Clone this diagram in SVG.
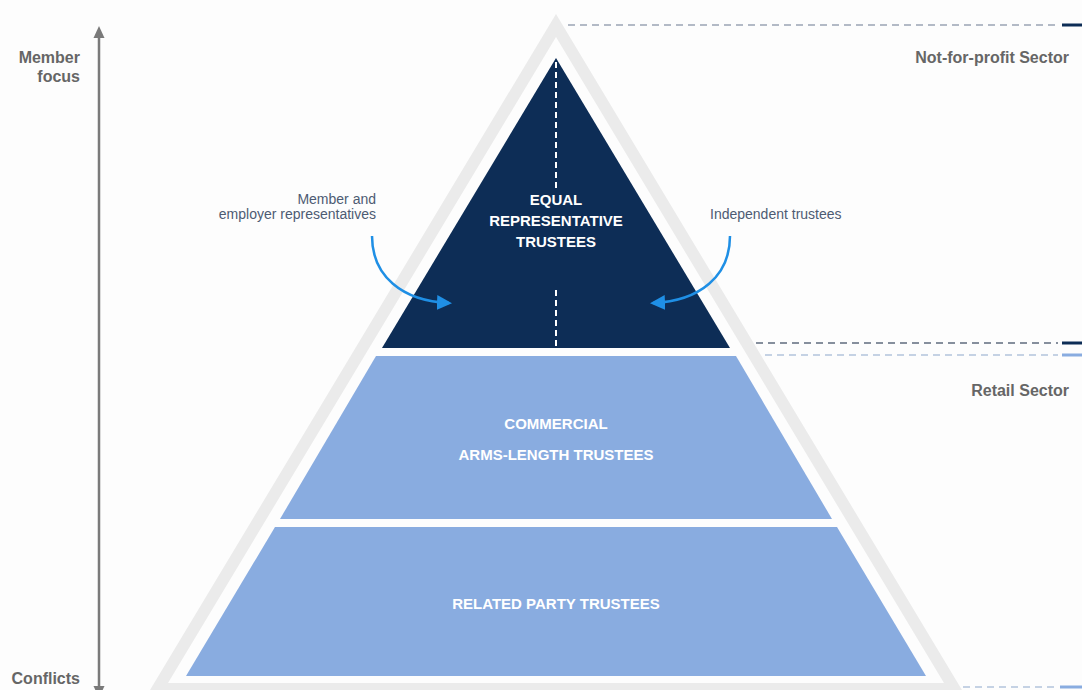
<svg xmlns="http://www.w3.org/2000/svg" width="1082" height="690" viewBox="0 0 1082 690">
  <style>
    .side { font-family: "Liberation Sans", Arial, sans-serif; font-weight: bold; font-size: 16px; fill: #666666; }
    .tier { font-family: "Liberation Sans", Arial, sans-serif; font-weight: bold; font-size: 15px; fill: #ffffff; text-anchor: middle; }
    .note { font-family: "Liberation Sans", Arial, sans-serif; font-size: 14px; fill: #4d5b73; }
    .flow { fill: none; stroke: #1f8fe5; stroke-width: 2.5; marker-end: url(#head); }
    .dash { fill: none; stroke-width: 1.6; stroke-dasharray: 7 5; }
  </style>
  <defs>
    <marker id="head" viewBox="0 0 10 10" refX="8" refY="5" markerWidth="6" markerHeight="6" orient="auto" markerUnits="strokeWidth">
      <path d="M0,0 L10,5 L0,10 Z" fill="#1f8fe5"/>
    </marker>
  </defs>

  <rect width="1082" height="690" fill="#fdfdfd"/>

  <!-- outer grey frame of the pyramid -->
  <path id="frame" fill="#ebebeb" fill-rule="evenodd"
        d="M556,14 L138,710 L974,710 Z M556,37 L168,683 L944,683 Z"/>

  <!-- vertical axis -->
  <g id="axis">
    <line x1="99" y1="34" x2="99" y2="690" stroke="#7a7a7a" stroke-width="2.5"/>
    <polygon points="99,26 93.5,38 104.5,38" fill="#7a7a7a"/>
    <polygon points="93.5,686 104.5,686 99,698" fill="#7a7a7a"/>
    <text class="side" x="80" y="63" text-anchor="end">Member</text>
    <text class="side" x="80" y="82" text-anchor="end">focus</text>
    <text class="side" x="80" y="684" text-anchor="end">Conflicts</text>
  </g>

  <!-- top tier -->
  <g id="tier-equal">
    <polygon points="556,58 382,348 730,348" fill="#0d2d56"/>
    <line x1="556" y1="62" x2="556" y2="190" stroke="#ffffff" stroke-width="2" stroke-dasharray="6 4"/>
    <line x1="556" y1="290" x2="556" y2="348" stroke="#ffffff" stroke-width="2" stroke-dasharray="6 4"/>
    <text class="tier" x="556" y="205">EQUAL</text>
    <text class="tier" x="556" y="226">REPRESENTATIVE</text>
    <text class="tier" x="556" y="247">TRUSTEES</text>
  </g>

  <!-- middle tier -->
  <g id="tier-commercial">
    <polygon points="376,356 736,356 832,519 280,519" fill="#89ace0"/>
    <text class="tier" x="556" y="429">COMMERCIAL</text>
    <text class="tier" x="556" y="460">ARMS-LENGTH TRUSTEES</text>
  </g>

  <!-- bottom tier -->
  <g id="tier-related">
    <polygon points="275,527 837,527 926,676 186,676" fill="#89ace0"/>
    <text class="tier" x="556" y="609">RELATED PARTY TRUSTEES</text>
  </g>

  <!-- side labels -->
  <g id="label-member">
    <text class="note" x="376" y="204" text-anchor="end">Member and</text>
    <text class="note" x="376" y="219" text-anchor="end">employer representatives</text>
  </g>
  <g id="label-independent">
    <text class="note" x="710" y="219">Independent trustees</text>
  </g>
  <g id="sector-nfp">
    <text class="side" x="1069" y="63" text-anchor="end">Not-for-profit Sector</text>
  </g>
  <g id="sector-retail">
    <text class="side" x="1069" y="396" text-anchor="end">Retail Sector</text>
  </g>

  <!-- connectors -->
  <g id="connectors">
    <path class="flow" d="M372,236 C372,276 402,301 449,303"/>
    <path class="flow" d="M730,236 C730,276 700,301 653,303"/>

    <line class="dash" x1="568" y1="25" x2="1058" y2="25" stroke="#9aa4b4"/>
    <line x1="1062" y1="25" x2="1082" y2="25" stroke="#0d2d56" stroke-width="3"/>

    <line class="dash" x1="756" y1="343" x2="1058" y2="343" stroke="#5f6b7d"/>
    <line x1="1062" y1="343" x2="1082" y2="343" stroke="#0d2d56" stroke-width="3"/>

    <line class="dash" x1="765" y1="355" x2="1058" y2="355" stroke="#b3c3dc"/>
    <line x1="1062" y1="355" x2="1082" y2="355" stroke="#89ace0" stroke-width="3"/>

    <line class="dash" x1="963" y1="687" x2="1055" y2="687" stroke="#b3c3dc"/>
    <line x1="1060" y1="687" x2="1082" y2="687" stroke="#89ace0" stroke-width="3"/>
  </g>
</svg>
